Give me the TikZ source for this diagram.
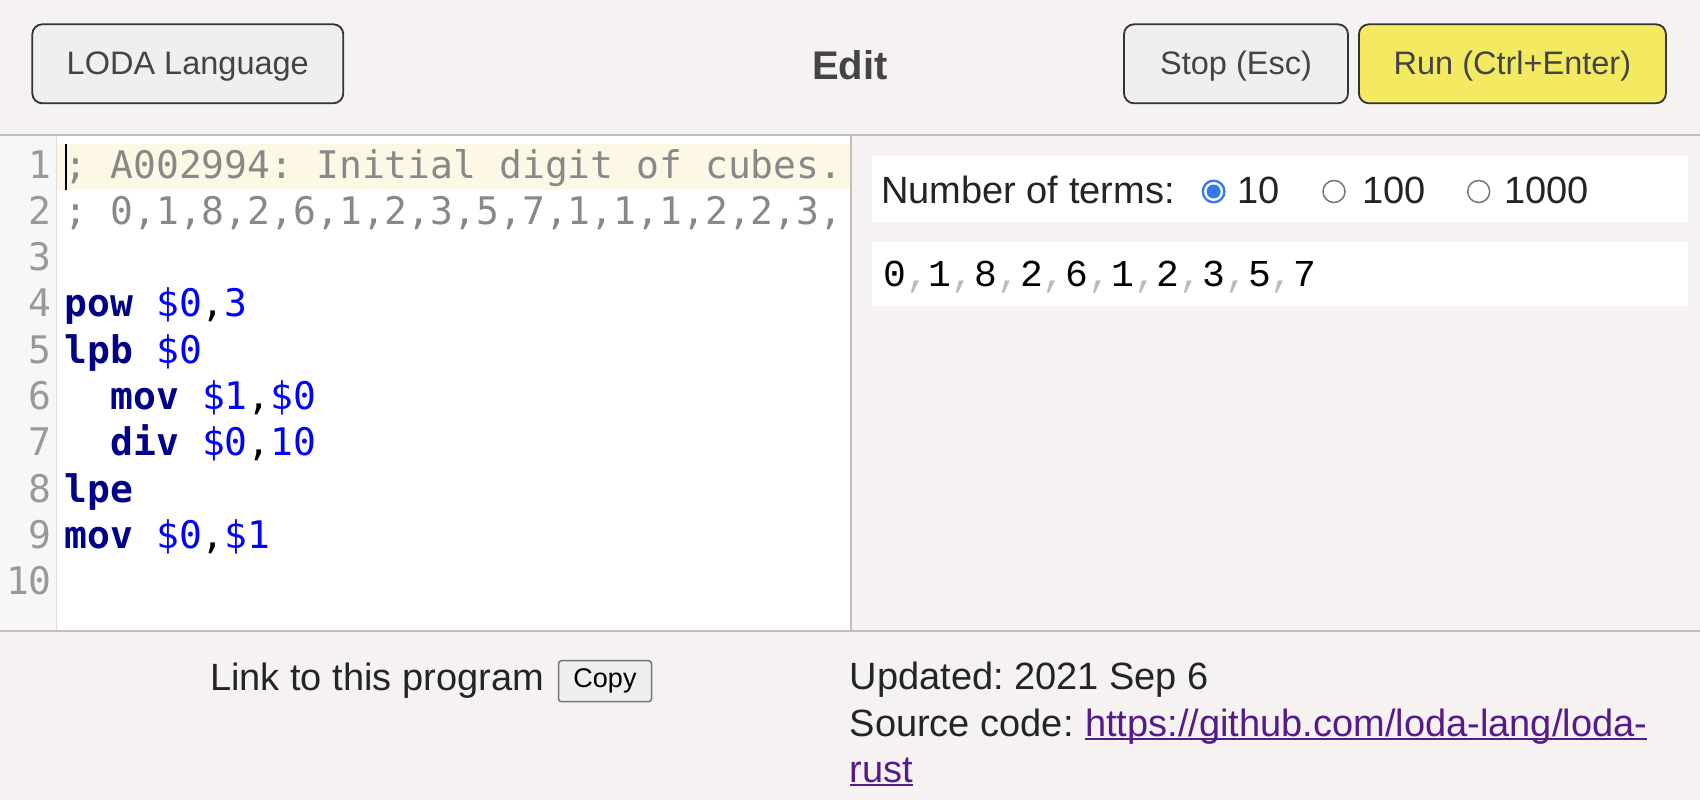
\documentclass[tikz,border=0pt]{standalone}
\usepackage{fontspec}
\setmainfont{Liberation Sans}
\newfontfamily\editfont{DejaVu Sans Mono}
\newfontfamily\termfont{Liberation Mono}
\frenchspacing
\definecolor{pagebg}{HTML}{F7F2F2}
\definecolor{gutterbg}{HTML}{F7F7F7}
\definecolor{gutterline}{HTML}{DDDDDD}
\definecolor{panelline}{HTML}{C2BEBE}
\definecolor{curline}{HTML}{FDF8E5}
\definecolor{btnfill}{HTML}{EFEFEF}
\definecolor{btnborder}{HTML}{333333}
\definecolor{btntext}{HTML}{444444}
\definecolor{runyellow}{HTML}{F4EA62}
\definecolor{cmtgray}{HTML}{888888}
\definecolor{lnumgray}{HTML}{999999}
\definecolor{opnavy}{HTML}{000088}
\definecolor{regblue}{HTML}{0000FF}
\definecolor{sepgray}{HTML}{BBBBBB}
\definecolor{textdark}{HTML}{212529}
\definecolor{linkpurple}{HTML}{551A8B}
\definecolor{radioblue}{HTML}{3478F6}
\definecolor{radiogray}{HTML}{767676}
\definecolor{copyborder}{HTML}{767676}
\newcommand{\opc}[1]{\textcolor{opnavy}{\bfseries #1}}
\newcommand{\regv}[1]{\textcolor{regblue}{#1}}
\newcommand{\tsep}{\textcolor{sepgray}{,}}
\begin{document}
\begin{tikzpicture}[x=1pt, y=-1pt,
	btn/.style = {draw=btnborder, line width=1.8pt, rounded corners=10pt,
	              fill=btnfill, text=btntext, inner sep=0pt,
	              minimum height=79pt, text height=24pt, text depth=3pt,
	              font=\fontsize{32.5}{39}\selectfont},
	code/.style = {anchor=base west, inner sep=0pt,
	               font=\editfont\fontsize{38}{46}\selectfont},
	lnum/.style = {code, anchor=base east, text=lnumgray},
	txt/.style = {anchor=base west, inner sep=0pt, text=textdark,
	              font=\fontsize{38}{46}\selectfont},
	terms/.style = {anchor=base west, inner sep=0pt,
	                font=\termfont\fontsize{38}{46}\selectfont},
	radio/.style = {circle, draw=radiogray, line width=1.5pt, fill=white,
	                minimum size=22pt, inner sep=0pt},
	radioon/.style = {circle, fill=radioblue, minimum size=24pt, inner sep=0pt,
	                  path picture={
	                    \fill[white] (path picture bounding box.center) circle[radius=9.5pt];
	                    \fill[radioblue] (path picture bounding box.center) circle[radius=7pt];}},
	copybtn/.style = {draw=copyborder, line width=1.5pt, rounded corners=3pt,
	                  fill=btnfill, inner sep=0pt, minimum width=93pt, minimum height=41pt,
	                  font=\fontsize{27}{32}\selectfont}]
	% page, editor and panels
	\fill[pagebg] (0,0) rectangle (1700,800);
	\useasboundingbox (0,0) rectangle (1700,800);
	\fill[white] (57,136) rectangle (851,630);
	\fill[gutterbg] (0,136) rectangle (56,630);
	\fill[curline] (57,144) rectangle (851,190);
	\draw[gutterline, line width=1.5pt] (56.5,136) -- (56.5,630);
	\draw[panelline, line width=2pt] (0,135) -- (1700,135);
	\draw[panelline, line width=2pt] (0,631) -- (1700,631);
	\draw[panelline, line width=2pt] (851,135) -- (851,631);
	\fill[white] (872,156) rectangle (1688,222);
	\fill[white] (872,242) rectangle (1688,306);

	% header
	\node[btn, minimum width=311pt] (loda) at (187.8,63.8) {LODA Language};
	\node[anchor=base, inner sep=0pt, text=btntext,
	      font=\bfseries\fontsize{40}{48}\selectfont] (edit) at (850,80) {Edit};
	\node[btn, minimum width=224pt] (stop) at (1236,63.8) {Stop (Esc)};
	\node[btn, fill=runyellow, minimum width=307pt] (run) at (1512.4,63.8) {Run (Ctrl+Enter)};

	% editor
	\foreach \n in {1,...,10}
		\node[lnum] (ln\n) at (52,{178+(\n-1)*46.3}) {\n};
	\node[code, text=cmtgray] (c1) at (64.5,178) {; A002994: Initial digit of cubes.};
	\node[code, text=cmtgray] (c2) at (64.5,224.3) {; 0,1,8,2,6,1,2,3,5,7,1,1,1,2,2,3,};
	\node[code] (c4) at (64.5,316.9) {\opc{pow} \regv{\$0},\regv{3}};
	\node[code] (c5) at (64.5,363.2) {\opc{lpb} \regv{\$0}};
	\node[code] (c6) at (110.3,409.5) {\opc{mov} \regv{\$1},\regv{\$0}};
	\node[code] (c7) at (110.3,455.8) {\opc{div} \regv{\$0},\regv{10}};
	\node[code] (c8) at (64.5,502.1) {\opc{lpe}};
	\node[code] (c9) at (64.5,548.4) {\opc{mov} \regv{\$0},\regv{\$1}};
	\draw[line width=1.5pt] (66,144) -- (66,190);

	% terms
	\node[txt] (nterms) at (881,203) {Number of terms:};
	\node[radioon] (r10) at (1213.6,191.5) {};
	\node[txt] (t10) at (1237,203) {10};
	\node[radio] (r100) at (1334,191.5) {};
	\node[txt] (t100) at (1362,203) {100};
	\node[radio] (r1000) at (1478.7,191.5) {};
	\node[txt] (t1000) at (1504,203) {1000};
	\node[terms] (seq) at (883,286) {0\tsep1\tsep8\tsep2\tsep6\tsep1\tsep2\tsep3\tsep5\tsep7};

	% footer
	\node[txt] (linkto) at (210,690) {Link to this program};
	\node[copybtn] (copy) at (605,681.2) {Copy};
	\node[txt] (updated) at (849.5,689) {Updated: 2021 Sep 6};
	\node[txt] (source) at (849.5,736) {Source code:};
	\node[txt, text=linkpurple] (url) at (1085,736) {https://github.com/loda-lang/loda-};
	\node[txt, text=linkpurple] (urlrest) at (849.5,782) {rust};
	\draw[linkpurple, line width=2pt] ([yshift=-2.5pt]url.base west) -- ([yshift=-2.5pt]url.base east);
	\draw[linkpurple, line width=2pt] ([yshift=-2.5pt]urlrest.base west) -- ([yshift=-2.5pt]urlrest.base east);
\end{tikzpicture}
\end{document}
